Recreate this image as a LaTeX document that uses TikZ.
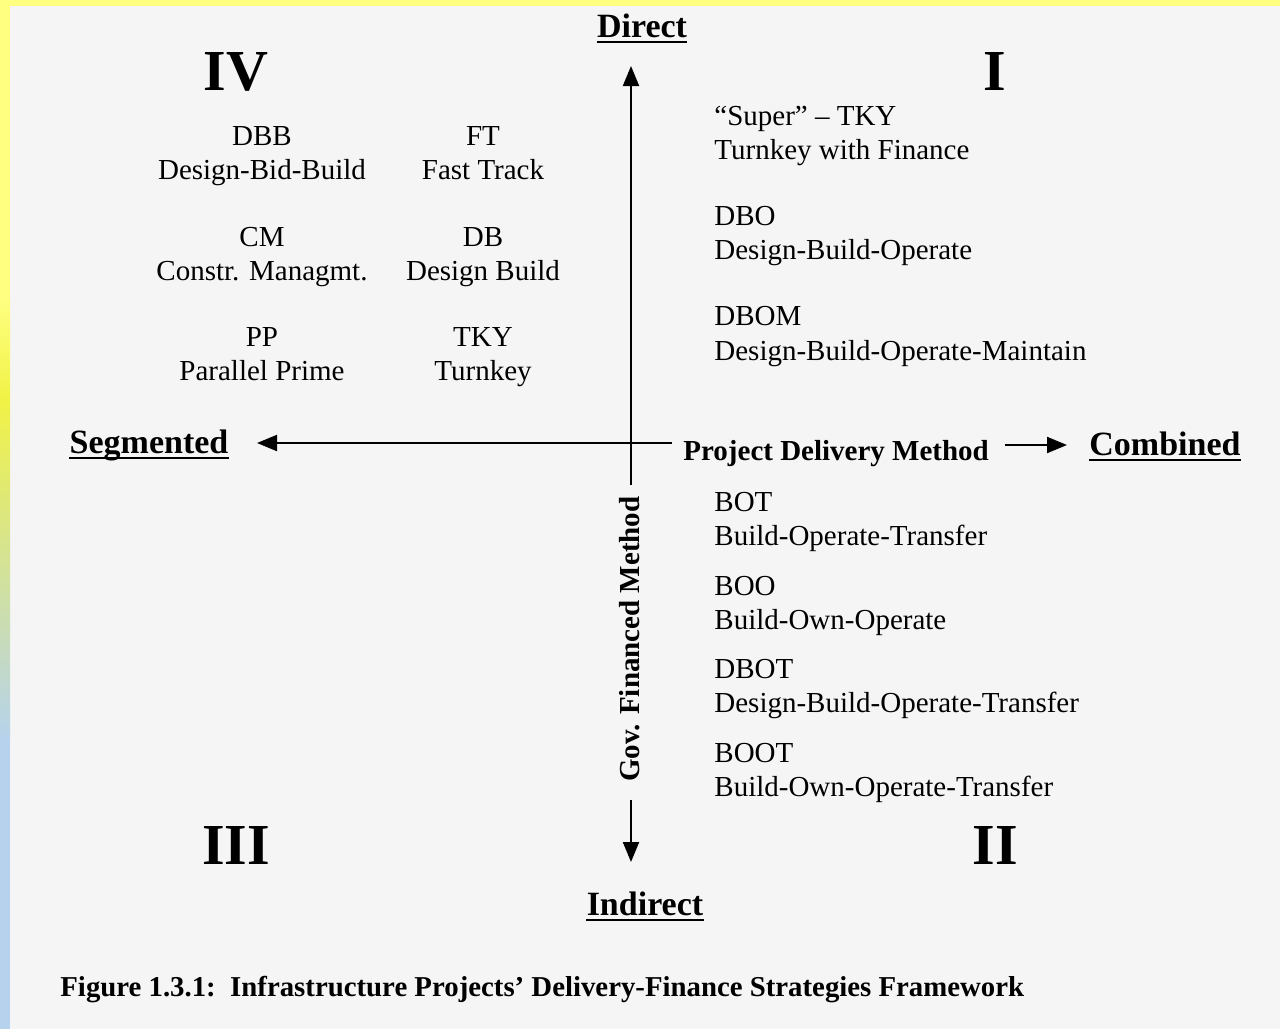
\documentclass[tikz,border=0pt]{standalone}
\usepackage{fontspec}
\setmainfont{Liberation Serif}
\usetikzlibrary{arrows.meta}
\definecolor{bgc}{RGB}{245,245,245}
\definecolor{ylw}{RGB}{255,255,128}
\definecolor{ylw2}{RGB}{240,242,70}
\definecolor{blu}{RGB}{182,210,236}
\tikzset{
  txt/.style={inner sep=0pt, font=\fontsize{14.5}{17}\selectfont},
  hd/.style={inner sep=0pt, font=\fontsize{17}{20}\bfseries},
  roman/.style={inner sep=0pt, font=\fontsize{29}{32}\selectfont\bfseries},
  axis/.style={line width=1pt, -{Triangle[length=10pt,width=8pt]}},
  uline/.style={line width=0.9pt}
}
\begin{document}
\begin{tikzpicture}[x=0.5pt,y=-0.5pt]
\useasboundingbox (0,0) rectangle (1280,1029);
\fill[bgc] (0,0) rectangle (1280,1029);
\fill[ylw] (0,0) rectangle (1280,6);
\fill[ylw] (0,0) rectangle (10,300);
\shade[top color=ylw, bottom color=ylw2] (0,300) rectangle (10,400);
\shade[top color=ylw2, bottom color=blu] (0,400) rectangle (10,740);
\fill[blu] (0,739) rectangle (10,1029);

% quadrant numerals
\node[roman, anchor=base] (qIV) at (236,90) {IV};
\node[roman, anchor=base] (qI) at (995,90) {I};
\node[roman, anchor=base] (qIII) at (236,864) {III};
\node[roman, anchor=base] (qII) at (995,864) {II};

% axis labels
\node[hd, anchor=base] (direct) at (642,37) {Direct};
\node[hd, anchor=base] (indirect) at (645,915) {Indirect};
\node[hd, anchor=base] (segm) at (149,453) {Segmented};
\node[hd, anchor=base] (comb) at (1165,455) {Combined};
\foreach \n in {direct,indirect,segm,comb}
  \draw[uline] ([yshift=-2.6pt]\n.base west) -- ([yshift=-2.6pt]\n.base east);

\node[txt, font=\fontsize{14.5}{17}\selectfont\bfseries, anchor=base west] (pdm) at (683,460) {Project Delivery Method};
\node[txt, font=\fontsize{14.5}{17}\selectfont\bfseries, rotate=90] (gfm) at (630,639) {Gov. Financed Method};

% axes
\coordinate (vtop) at (631,66);
\coordinate (vmid) at (631,485);
\coordinate (vlow) at (631,800);
\coordinate (vbot) at (631,862);
\coordinate (hl) at (257,443);
\coordinate (hm) at (672,443);
\coordinate (hr0) at (1005,445);
\coordinate (hr) at (1067,445);
\draw[axis] (vmid) -- (vtop);
\draw[axis] (vlow) -- (vbot);
\draw[axis] (hm) -- (hl);
\draw[axis] (hr0) -- (hr);

% quadrant IV
\node[txt, anchor=base] (dbb) at (262,145) {DBB};
\node[txt, anchor=base] (dbbl) at (262,179) {Design-Bid-Build};
\node[txt, anchor=base] (cm) at (262,246) {CM};
\node[txt, anchor=base] (cml) at (262,280) {Constr. Managmt.};
\node[txt, anchor=base] (pp) at (262,346) {PP};
\node[txt, anchor=base] (ppl) at (262,380) {Parallel Prime};
\node[txt, anchor=base] (ft) at (483,145) {FT};
\node[txt, anchor=base] (ftl) at (483,179) {Fast Track};
\node[txt, anchor=base] (db) at (483,246) {DB};
\node[txt, anchor=base] (dbl) at (483,280) {Design Build};
\node[txt, anchor=base] (tky) at (483,346) {TKY};
\node[txt, anchor=base] (tkyl) at (483,380) {Turnkey};

% quadrant I
\node[txt, anchor=base west] (sup) at (714,125) {“Super” – TKY};
\node[txt, anchor=base west] (supl) at (714,159) {Turnkey with Finance};
\node[txt, anchor=base west] (dbo) at (714,225) {DBO};
\node[txt, anchor=base west] (dbol) at (714,259) {Design-Build-Operate};
\node[txt, anchor=base west] (dbom) at (714,325) {DBOM};
\node[txt, anchor=base west] (dboml) at (714,360) {Design-Build-Operate-Maintain};

% quadrant II
\node[txt, anchor=base west] (bot) at (714,511) {BOT};
\node[txt, anchor=base west] (botl) at (714,545) {Build-Operate-Transfer};
\node[txt, anchor=base west] (boo) at (714,595) {BOO};
\node[txt, anchor=base west] (bool) at (714,629) {Build-Own-Operate};
\node[txt, anchor=base west] (dbot) at (714,678) {DBOT};
\node[txt, anchor=base west] (dbotl) at (714,712) {Design-Build-Operate-Transfer};
\node[txt, anchor=base west] (boot) at (714,762) {BOOT};
\node[txt, anchor=base west] (bootl) at (714,796) {Build-Own-Operate-Transfer};

% caption
\node[txt, font=\fontsize{14.4}{17}\selectfont\bfseries, anchor=base west] (cap) at (60,996) {Figure 1.3.1:\ \ Infrastructure Projects’ Delivery-Finance Strategies Framework};
\end{tikzpicture}
\end{document}
